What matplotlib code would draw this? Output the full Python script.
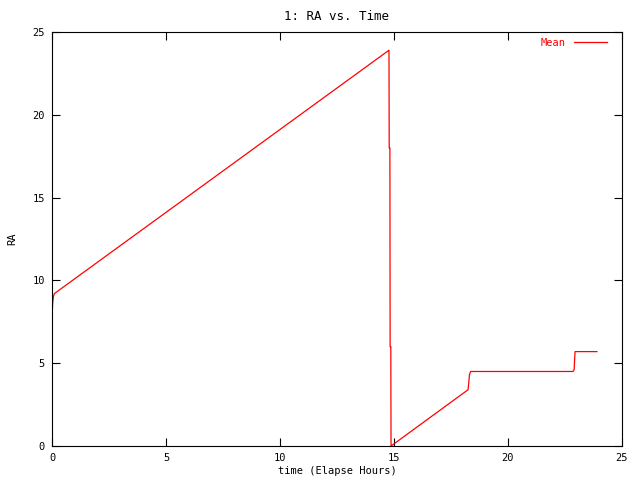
import matplotlib
matplotlib.use("Agg")
import matplotlib.pyplot as plt

# elapsed hours and mean RA
time_h = [0.0, 0.03, 0.06, 0.1, 0.2, 14.78, 14.79, 14.82, 14.83, 14.86, 14.87,
          18.25, 18.31, 18.36, 18.42, 22.85, 22.9, 22.94, 23.9]
ra_mean = [7.8, 8.6, 9.0, 9.2, 9.3, 23.9, 18.0, 18.0, 6.0, 6.0, 0.0,
           3.4, 4.3, 4.5, 4.5, 4.5, 4.6, 5.7, 5.7]

xticks = [0, 5, 10, 15, 20, 25]
yticks = [0, 5, 10, 15, 20, 25]

plt.rcParams['font.family'] = 'DejaVu Sans Mono'
plt.rcParams['font.size'] = 7.5

fig = plt.figure(figsize=(6.4, 4.8), dpi=100)
ax = fig.add_axes([52 / 640, 34 / 480, 570 / 640, 414 / 480])

ax.plot(time_h, ra_mean, color='red', linewidth=0.9, label='Mean')

ax.set_xlim(0, 25)
ax.set_ylim(0, 25)
ax.set_xticks(xticks)
ax.set_yticks(yticks)
ax.tick_params(direction='in', length=6, width=0.8, top=True, right=True, pad=5)
for s in ax.spines.values():
    s.set_linewidth(0.8)

ax.set_title('1: RA vs. Time', pad=9)
ax.set_xlabel('time (Elapse Hours)', labelpad=2)
ax.set_ylabel('RA', labelpad=11)

leg = ax.legend(loc='upper right', bbox_to_anchor=(0.9737, 0.9855),
                frameon=False, markerfirst=False, borderaxespad=0, borderpad=0,
                handlelength=3.2, handletextpad=0.8)
for t in leg.get_texts():
    t.set_color('red')

fig.savefig('out.png', dpi=100)
